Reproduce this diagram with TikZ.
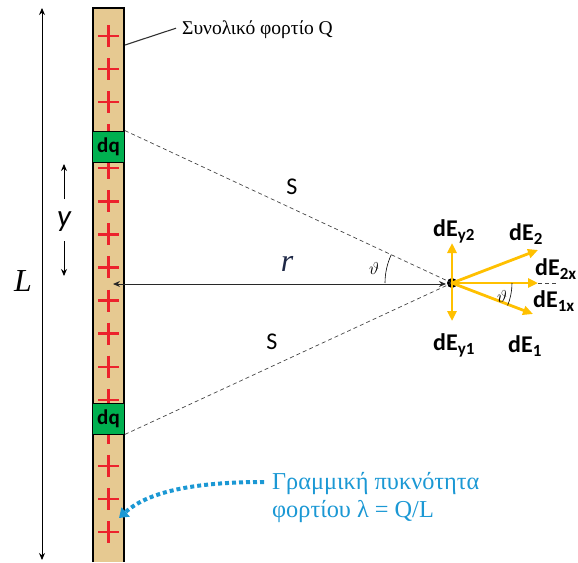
\documentclass[tikz,border=0pt]{standalone}
\usepackage{fontspec}
\setmainfont{Liberation Serif}
\newfontfamily\calfont{Carlito}
\usetikzlibrary{arrows.meta}
\definecolor{rodtan}{RGB}{230,201,145}
\definecolor{plusred}{RGB}{236,34,44}
\definecolor{dqgreen}{RGB}{0,176,80}
\definecolor{eyellow}{RGB}{255,192,0}
\definecolor{lblue}{RGB}{27,152,212}
\definecolor{dashgray}{RGB}{70,70,70}
\definecolor{rgray}{RGB}{40,40,40}
\definecolor{rnavy}{RGB}{30,40,70}
\definecolor{leadgray}{RGB}{50,50,50}
\newcommand{\dElab}[1]{{\calfont\bfseries\fontsize{24}{24}\selectfont dE\raisebox{-4.5pt}{\fontsize{17}{17}\selectfont #1}}}
\tikzset{
  plussign/.style={draw=plusred, line width=2.4pt},
  dqbox/.style={draw=black, line width=0.8pt, fill=dqgreen, minimum width=32pt, minimum height=31pt, inner sep=0pt, font=\calfont\bfseries\fontsize{21}{21}\selectfont},
  dashline/.style={draw=dashgray, line width=0.7pt, dash pattern=on 4pt off 3pt},
  efield/.style={draw=eyellow, line width=2.8pt, -{Triangle[length=10pt,width=9pt]}},
  thinarrow/.style={draw=black, line width=0.9pt},
  lbl/.style={inner sep=0pt},
  elbl/.style={inner sep=0pt, anchor=base west},
}
\begin{document}
\begin{tikzpicture}[x=1pt,y=-1pt]
\useasboundingbox (0,0) rectangle (578,562);
% rod
\fill[rodtan] (93,8) rectangle (124,562);
\draw[black, line width=2.8pt] (93,562) -- (93,8) -- (124,8) -- (124,562);
\foreach \i in {0,...,15}{
  \draw[plussign] (98,36+33.07*\i) -- (119,36+33.07*\i);
  \draw[plussign] (108.5,25+33.07*\i) -- (108.5,47+33.07*\i);
}
\node[dqbox] (dq1) at (108.5,146.5) {dq};
\node[dqbox] (dq2) at (108.5,418.5) {dq};
% point
\node[circle, fill=black, inner sep=0pt, minimum size=10pt] (O) at (452,283) {};
\coordinate (rodmid) at (113,284);
\coordinate (Ol) at (446,284);
% dashed lines
\draw[dashline] (dq1.north east) -- (O.center);
\draw[dashline] (dq2.south east) -- (O.center);
% r arrow
\draw[draw=rgray, line width=1pt, {Stealth[length=7pt,width=6pt]}-{Stealth[length=7pt,width=6pt]}] (rodmid) -- (Ol);
\node[lbl, font=\itshape\fontsize{32}{32}\selectfont, text=rnavy] (rlab) at (287,264) {r};
% angle
\draw[black, line width=0.6pt] (O.center) ++(180:67) arc[start angle=180, end angle=205, radius=67];
\node[lbl, font=\fontsize{17}{17}\selectfont] (th1) at (374,268) {$\vartheta$};
% S labels
\node[lbl, font=\calfont\fontsize{24}{24}\selectfont] (s1) at (292,187) {S};
\node[lbl, font=\calfont\fontsize{24}{24}\selectfont] (s2) at (272,342) {S};
% field vectors
\coordinate (Ey2) at (452,243);
\coordinate (Ey1) at (452,321);
\coordinate (E2) at (538,250);
\coordinate (E1) at (533,314);
\coordinate (Ex) at (538,283);
\coordinate (Exd) at (557,283);
\draw[dashline] (Ex) -- (Exd);
\draw[efield] (O.center) -- (Ey2);
\draw[efield] (O.center) -- (Ey1);
\draw[efield] (O.center) -- (E2);
\draw[efield] (O.center) -- (E1);
\draw[efield] (O.center) -- (Ex);
\draw[black, line width=0.6pt] (O.center) ++(0:60) arc[start angle=0, end angle=22, radius=60];
\node[lbl, font=\fontsize{17}{17}\selectfont] (th2) at (502,296) {$\vartheta$};
\node[elbl] (lEy2) at (433,236) {\dElab{y2}};
\node[elbl] (lE2) at (509,240) {\dElab{2}};
\node[elbl] (lE2x) at (535,275) {\dElab{2x}};
\node[elbl] (lE1x) at (533,307) {\dElab{1x}};
\node[elbl] (lEy1) at (433,350) {\dElab{y1}};
\node[elbl] (lE1) at (508,352) {\dElab{1}};
% L arrow
\coordinate (Ltop) at (42,8);
\coordinate (Lbot) at (42,560);
\draw[thinarrow, {Stealth[length=7pt,width=6pt]}-{Stealth[length=7pt,width=6pt]}] (Ltop) -- (Lbot);
\node[lbl, font=\itshape\fontsize{32}{32}\selectfont] (Llab) at (23,281) {L};
% y arrows
\coordinate (ya) at (64,199);
\coordinate (yb) at (64,164);
\coordinate (yc) at (64,241);
\coordinate (yd) at (64,276);
\draw[thinarrow, -{Stealth[length=7pt,width=6pt]}] (ya) -- (yb);
\draw[thinarrow, -{Stealth[length=7pt,width=6pt]}] (yc) -- (yd);
\node[lbl, font=\calfont\itshape\fontsize{31}{31}\selectfont] (ylab) at (64,222) {y};
% total charge label
\node[anchor=base west, inner sep=0pt, font=\fontsize{19.5}{19.5}\selectfont] (Qlab) at (182,34) {Συνολικό φορτίο Q};
\coordinate (Qend) at (125,45);
\draw[draw=leadgray, line width=1.1pt] (Qlab.west) ++(-6,-1) -- (Qend);
% linear density label
\node[anchor=base west, inner sep=0pt, font=\fontsize{24.3}{24.3}\selectfont, text=lblue] (lam1) at (272,489) {Γραμμική πυκνότητα};
\node[anchor=base west, inner sep=0pt, font=\fontsize{24.3}{24.3}\selectfont, text=lblue] (lam2) at (272,517) {φορτίου λ = Q/L};
\coordinate (lamstart) at (264,482);
\coordinate (lamtip) at (119,518);
\draw[draw=lblue, line width=4pt, dash pattern=on 4pt off 3pt, -{Triangle[length=9pt,width=12pt]}] (lamstart) .. controls (200,482) and (150,490) .. (lamtip);
\end{tikzpicture}
\end{document}
